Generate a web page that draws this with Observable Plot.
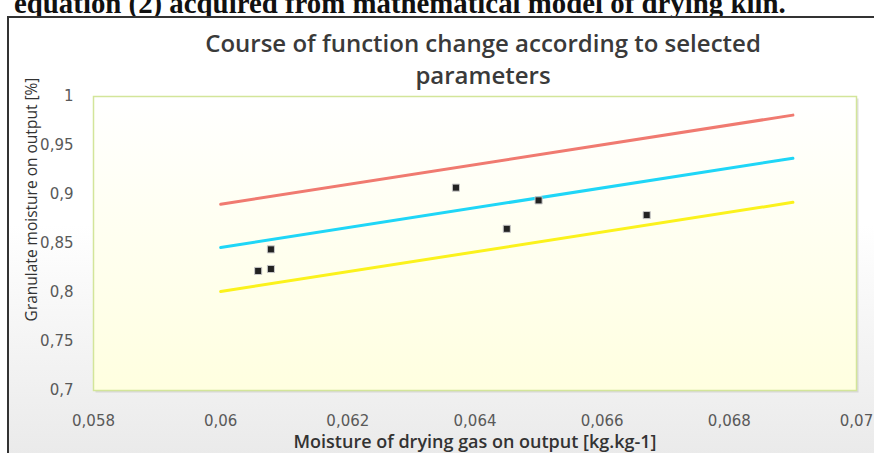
<!DOCTYPE html>
<html><head><meta charset="utf-8">
<script src="https://cdn.jsdelivr.net/npm/d3@7"></script>
<script src="https://cdn.jsdelivr.net/npm/@observablehq/plot@0.6"></script>
<style>
body{margin:0;background:#fff;}
#wrap{position:relative;width:874px;height:453px;overflow:hidden;background:#fff;}
#doc{position:absolute;left:14px;top:-11px;font:bold 28px "Liberation Serif",serif;line-height:1;white-space:nowrap;color:#111;}
#chartbox{position:absolute;left:7px;top:16px;width:900px;height:460px;border-left:2px solid #333;border-top:2px solid #333;background:linear-gradient(#fff 45%, #e8e8e8);}
#plot{position:absolute;left:0;top:0;}
</style></head>
<body>
<div id="wrap">
  <div id="doc">equation (2) acquired from mathematical model of drying kiln.</div>
  <div id="chartbox"></div>
  <div id="plot"></div>
</div>
<script>
const title = "Course of function change according to selected\nparameters";
const xLabel = "Moisture of drying gas on output [kg.kg-1]";
const yLabel = "Granulate moisture on output [%]";

const xTicks = [0.058, 0.06, 0.062, 0.064, 0.066, 0.068, 0.07];
const yTicks = [0.7, 0.75, 0.8, 0.85, 0.9, 0.95, 1];

// model lines (endpoints)
const lineX = [0.060, 0.069];
const redY = [0.890, 0.981];
const cyanY = [0.846, 0.937];
const yellowY = [0.801, 0.892];

// measured points
const pointX = [0.06059, 0.06079, 0.06079, 0.0637, 0.0645, 0.0650, 0.0667];
const pointY = [0.822, 0.824, 0.844, 0.907, 0.865, 0.894, 0.879];

const series = [
  {name: "red", ys: redY, color: "#f07a70"},
  {name: "cyan", ys: cyanY, color: "#1fd6f7"},
  {name: "yellow", ys: yellowY, color: "#fbf21c"}
];
const lineData = series.flatMap(s => lineX.map((x, i) => ({x, y: s.ys[i], s: s.name, color: s.color})));
const points = pointX.map((x, i) => ({x, y: pointY[i]}));

const loc = d3.formatLocale({decimal: ",", thousands: ".", grouping: [3], currency: ["", ""]});
const fmt = loc.format("");

const chart = Plot.plot({
  width: 874, height: 453,
  marginLeft: 93, marginRight: 18, marginTop: 96, marginBottom: 63,
  style: {background: "transparent", fontFamily: "DejaVu Sans, sans-serif", overflow: "visible"},
  x: {domain: [0.058, 0.07]},
  y: {domain: [0.7, 1]},
  marks: [
    Plot.frame({fill: "#c8c8c8", fillOpacity: 0.6, dx: 2, dy: 2, stroke: null}),
    Plot.frame({fill: "url(#plotgrad)", stroke: "#d3e59a", strokeWidth: 1.5}),
    Plot.axisX({ticks: xTicks, tickSize: 0, tickPadding: 25, tickFormat: fmt, fontSize: 15, fontFamily: "DejaVu Sans", fill: "#595959", label: null}),
    Plot.axisY({ticks: yTicks, tickSize: 0, tickPadding: 20, tickFormat: fmt, fontSize: 15, fontFamily: "DejaVu Sans", fill: "#595959", label: null}),
    Plot.line(lineData, {x: "x", y: "y", z: "s", stroke: "color", strokeWidth: 3}),
    Plot.dot(points, {x: "x", y: "y", symbol: "square", r: 4, fill: "#222", stroke: "#c8c8c8", strokeWidth: 1}),
    Plot.text([title], {frameAnchor: "top", dy: -39, dx: 8, lineAnchor: "middle", lineHeight: 1.333, fontSize: 24, fontWeight: 600, fontFamily: "Open Sans", fill: "#3a3a3a"}),
    Plot.text([xLabel], {frameAnchor: "bottom", dy: 52, lineAnchor: "middle", fontSize: 18, fontWeight: 600, fontFamily: "Open Sans", fill: "#333"}),
    Plot.text([yLabel], {frameAnchor: "left", dx: -61, dy: -44, rotate: -90, textAnchor: "middle", lineAnchor: "middle", fontSize: 15.5, fontWeight: 400, fontFamily: "Open Sans", fill: "#333"})
  ]
});
const ns = "http://www.w3.org/2000/svg";
const defs = document.createElementNS(ns, "defs");
defs.innerHTML = '<linearGradient id="plotgrad" x1="0" y1="0" x2="0" y2="1"><stop offset="0" stop-color="#ffffff"/><stop offset="1" stop-color="#ffffe0"/></linearGradient>';
chart.insertBefore(defs, chart.firstChild);
document.getElementById("plot").appendChild(chart);

// fit the cropped document line to its width in the picture
const doc = document.getElementById("doc");
const w = doc.getBoundingClientRect().width;
doc.style.fontSize = (28 * 772 / w) + "px";
</script>
</body></html>
